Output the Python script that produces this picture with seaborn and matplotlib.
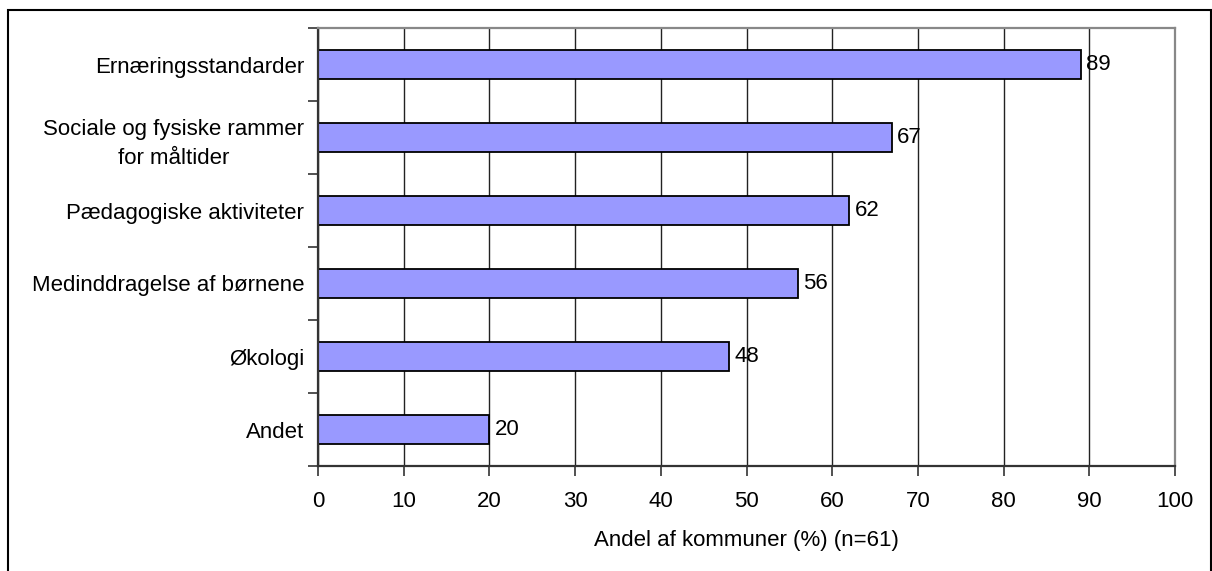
import matplotlib
matplotlib.use("Agg")
import matplotlib.pyplot as plt
import seaborn as sns
import pandas as pd
from matplotlib.patches import Rectangle

categories = ["Ernæringsstandarder", "Sociale og fysiske rammer\nfor måltider",
              "Pædagogiske aktiviteter", "Medinddragelse af børnene",
              "Økologi", "Andet"]
values = [89, 67, 62, 56, 48, 20]
xticks = [0, 10, 20, 30, 40, 50, 60, 70, 80, 90, 100]
xlabel = "Andel af kommuner (%) (n=61)"

df = pd.DataFrame({"kategori": categories, "andel": values})

sns.set_style("white", {"xtick.bottom": True, "ytick.left": True})
plt.rcParams["font.family"] = ["Liberation Sans", "DejaVu Sans"]
plt.rcParams["text.color"] = "black"
plt.rcParams["axes.labelcolor"] = "black"
plt.rcParams["xtick.labelcolor"] = "black"
plt.rcParams["ytick.labelcolor"] = "black"

FS = 16
W, H = 1212, 571
fig = plt.figure(figsize=(W / 100, H / 100), dpi=100)
ax = fig.add_axes([318 / W, 1 - 466 / H, (1175 - 318) / W, (466 - 28) / H])

sns.barplot(data=df, x="andel", y="kategori", ax=ax, color="#9999FF",
            edgecolor="black", linewidth=1.3, width=0.41, saturation=1)

ax.set_xlim(0, 100)
ax.set_ylim(len(categories) - 0.5, -0.5)
ax.set_xticks(xticks)
ax.set_xticklabels([str(t) for t in xticks], fontsize=FS)
ax.set_yticks(list(range(len(categories))))
ax.set_yticklabels(categories, fontsize=FS, multialignment="center", linespacing=1.5)
ax.tick_params(axis="y", which="major", length=0, pad=10)
ax.set_yticks([i - 0.5 for i in range(len(categories) + 1)], minor=True)
ax.tick_params(axis="y", which="minor", length=7, width=1.2, color="#333333", direction="out")
ax.tick_params(axis="x", length=7, width=1.2, color="#333333", direction="out", pad=11)

ax.xaxis.grid(True, color="#222222", linewidth=1)
ax.set_axisbelow(True)

for s in ["top", "right"]:
    ax.spines[s].set_color("#888888")
    ax.spines[s].set_linewidth(1.6)
for s in ["left", "bottom"]:
    ax.spines[s].set_color("#333333")
    ax.spines[s].set_linewidth(1.6)

ax.set_xlabel(xlabel, fontsize=FS, labelpad=13)
ax.set_ylabel("")

for i, v in enumerate(values):
    ax.text(v + 0.6, i, str(v), va="center", ha="left", fontsize=FS)

fig.patches.append(Rectangle((8 / W, -0.05), (1211 - 8) / W, 1.05 - 10 / H,
                             transform=fig.transFigure, fill=False,
                             edgecolor="black", linewidth=1.5))

fig.savefig("out.png", dpi=100)
